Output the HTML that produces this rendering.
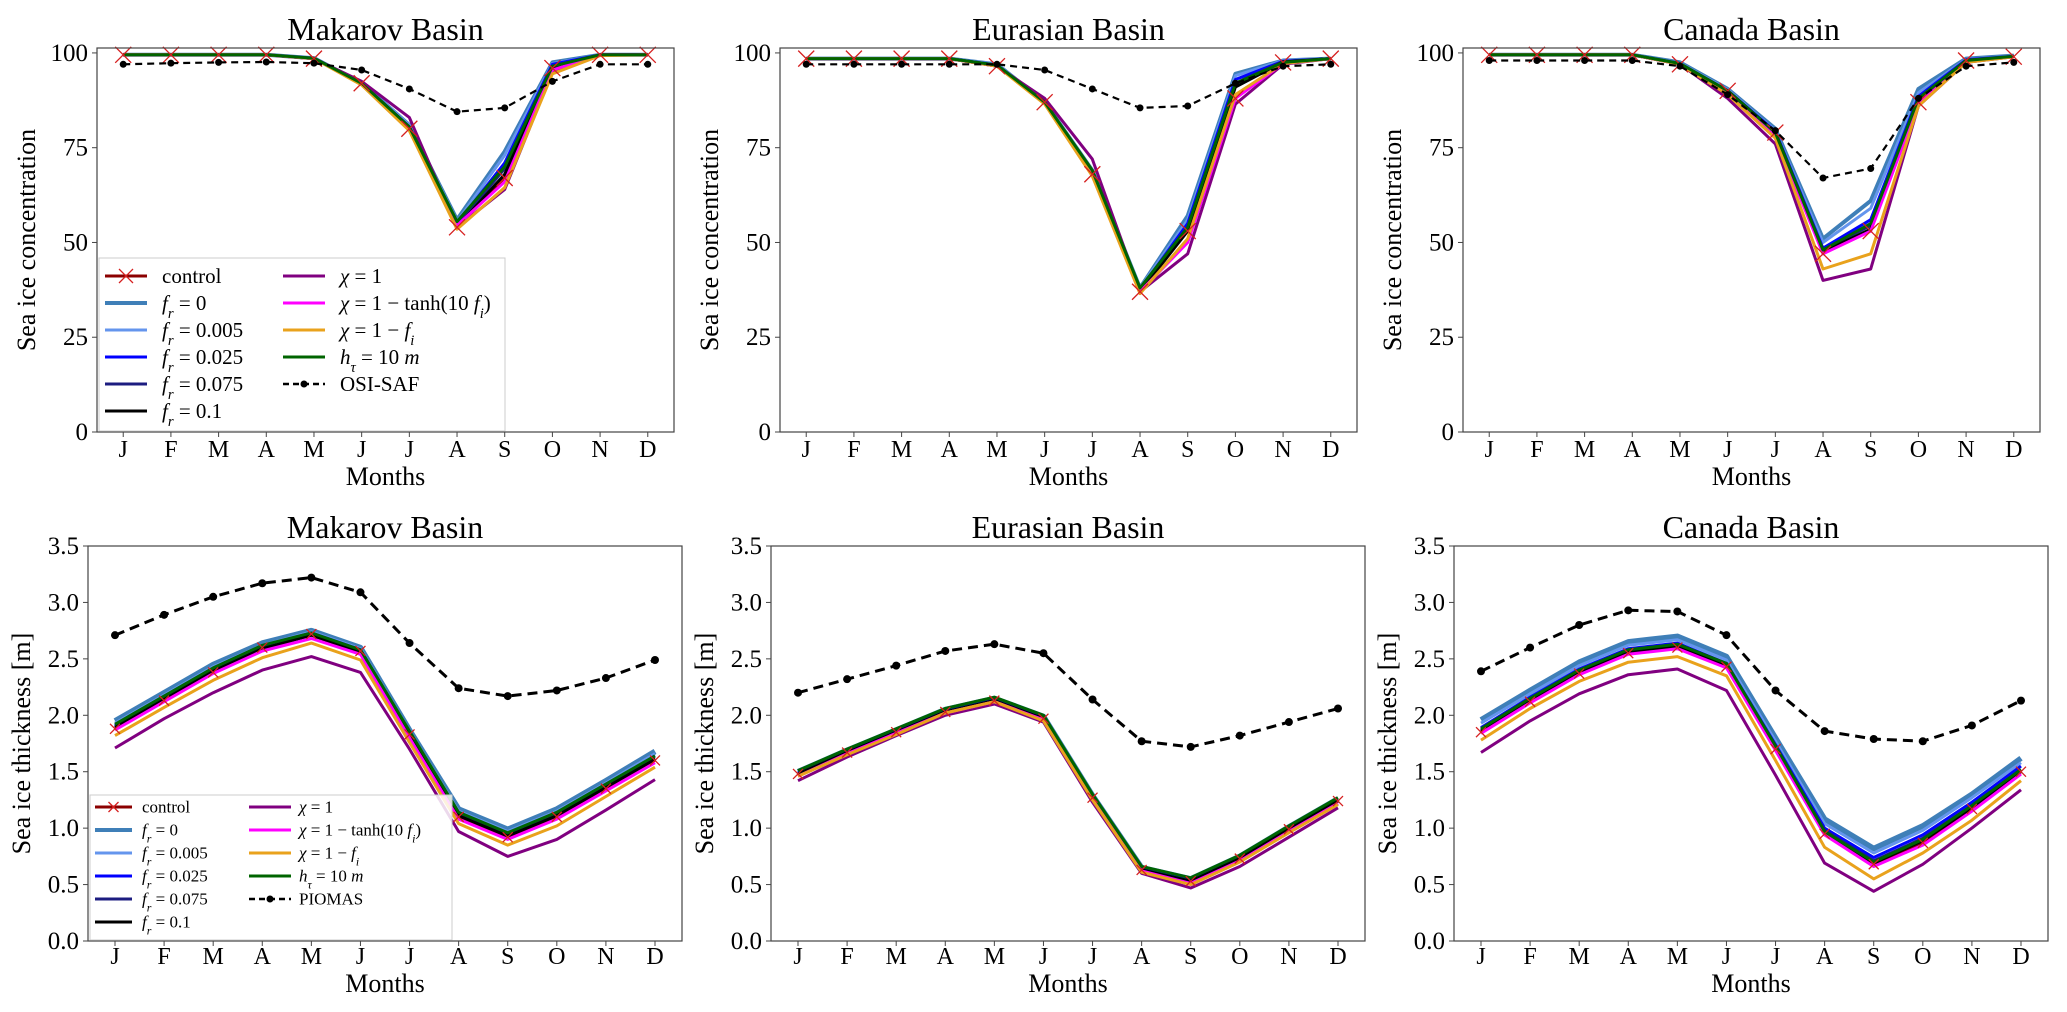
<!DOCTYPE html>
<html><head><meta charset="utf-8"><style>
html,body{margin:0;padding:0;background:#fff;}
svg{display:block;font-family:"Liberation Serif",serif;}
</style></head>
<body>
<svg id="fig" width="2067" height="1012" viewBox="0 0 2067 1012" xmlns="http://www.w3.org/2000/svg"></svg>
<script>
const months = ["J","F","M","A","M","J","J","A","S","O","N","D"];
const seriesNames = ["control","fr0","fr005","fr025","fr075","fr1","chi1","tanh","onefi","htau"];
const concTicks = [0,25,50,75,100];
const thickTicks = [0,0.5,1.0,1.5,2.0,2.5,3.0,3.5];
const thickTickLabels = ["0.0","0.5","1.0","1.5","2.0","2.5","3.0","3.5"];

// Makarov concentration
const makConc = [
 [99.5,99.5,99.5,99.5,98.5,92,80,54,67,96,99.5,99.5],
 [99.5,99.5,99.5,99.5,98.6,92,81,56,74,97.5,99.5,99.5],
 [99.5,99.5,99.5,99.5,98.6,92,81,55.5,73,97.2,99.5,99.5],
 [99.5,99.5,99.5,99.5,98.6,92,80.5,55,71,97,99.5,99.5],
 [99.5,99.5,99.5,99.5,98.5,92,80.5,54.5,69.5,96.5,99.5,99.5],
 [99.5,99.5,99.5,99.5,98.5,92,80,54,68,96,99.5,99.5],
 [99.5,99.5,99.5,99.5,98.5,92.5,83,54,64,95,99.5,99.5],
 [99.5,99.5,99.5,99.5,98.5,92,80,54.5,66,95.5,99.5,99.5],
 [99.5,99.5,99.5,99.5,98.5,91.5,79.5,53.5,64.5,94.5,99.3,99.5],
 [99.5,99.5,99.5,99.5,98.6,92,80.5,55.5,70,96.5,99.5,99.5]
];
const makOsi = [97,97.3,97.5,97.6,97.3,95.5,90.5,84.5,85.5,92.5,97,97];
// Eurasian concentration
const eurConc = [
 [98.5,98.5,98.5,98.5,96.5,87,68,37,53,88,97.5,98.5],
 [98.5,98.5,98.5,98.5,97,87,69,38,57,94.5,98,98.5],
 [98.5,98.5,98.5,98.5,97,87,69,38,56,94,98,98.5],
 [98.5,98.5,98.5,98.5,96.8,87,68.5,37.5,55,93,97.8,98.5],
 [98.5,98.5,98.5,98.5,96.7,87,68.5,37.5,54,92,97.7,98.5],
 [98.5,98.5,98.5,98.5,96.5,87,68,37,53,91,97.6,98.5],
 [98.5,98.5,98.5,98.5,96.5,88,72,37,47,86.5,97,98.5],
 [98.5,98.5,98.5,98.5,96.5,87,68,37,50,88,97.2,98.5],
 [98.5,98.5,98.5,98.5,96.5,86.5,67.5,36.5,51,89,97.2,98.5],
 [98.5,98.5,98.5,98.5,96.8,87,69,38,54,92,97.5,98.5]
];
const eurOsi = [97,97,97,97,97,95.5,90.5,85.5,86,92,96.5,97];
// Canada concentration
const canConc = [
 [99.5,99.5,99.5,99.5,97,90,79,47,53,87,98,99],
 [99.5,99.5,99.5,99.5,97.5,90.5,80,51,61,90.5,98.5,99.3],
 [99.5,99.5,99.5,99.5,97.3,90.3,79.5,50,59,89.5,98.3,99.2],
 [99.5,99.5,99.5,99.5,97.2,90,79.3,48.5,56,88.5,98.2,99.1],
 [99.5,99.5,99.5,99.5,97.1,90,79,48,54.5,87.5,98.1,99],
 [99.5,99.5,99.5,99.5,97,90,79,47.5,53.5,87,98,99],
 [99.5,99.5,99.5,99.5,97,88,76,40,43,86,97.5,99],
 [99.5,99.5,99.5,99.5,97,89.5,78,47,53,86.5,97.8,99],
 [99.5,99.5,99.5,99.5,97,89,77.5,43,47,86,97.5,99],
 [99.5,99.5,99.5,99.5,97.2,90,79,48,55,88,98,99.1]
];
const canOsi = [98,98,98,98,96.5,89,79.5,67,69.5,88,96.5,97.5];

// Makarov thickness
const makThick = [
 [1.88,2.13,2.38,2.6,2.72,2.57,1.83,1.1,0.92,1.1,1.35,1.6],
 [1.95,2.2,2.45,2.64,2.75,2.6,1.87,1.17,0.99,1.17,1.42,1.68],
 [1.93,2.18,2.43,2.62,2.74,2.59,1.86,1.15,0.97,1.15,1.4,1.66],
 [1.91,2.16,2.41,2.61,2.73,2.58,1.85,1.13,0.95,1.13,1.38,1.64],
 [1.9,2.15,2.4,2.6,2.72,2.57,1.84,1.12,0.94,1.12,1.37,1.62],
 [1.89,2.14,2.39,2.59,2.71,2.56,1.83,1.11,0.93,1.11,1.36,1.61],
 [1.71,1.97,2.2,2.4,2.52,2.38,1.7,0.97,0.75,0.9,1.16,1.43],
 [1.87,2.12,2.37,2.57,2.68,2.54,1.8,1.08,0.9,1.08,1.33,1.58],
 [1.82,2.07,2.31,2.51,2.64,2.49,1.76,1.04,0.85,1.02,1.28,1.54],
 [1.92,2.17,2.42,2.62,2.73,2.58,1.86,1.14,0.96,1.14,1.39,1.64]
];
const makPiomas = [2.71,2.89,3.05,3.17,3.22,3.09,2.64,2.24,2.17,2.22,2.33,2.49];
// Eurasian thickness
const eurThick = [
 [1.48,1.67,1.85,2.03,2.13,1.97,1.27,0.63,0.53,0.73,0.99,1.24],
 [1.5,1.69,1.87,2.05,2.15,1.99,1.29,0.65,0.55,0.75,1.01,1.26],
 [1.49,1.68,1.86,2.04,2.14,1.98,1.28,0.64,0.54,0.74,1.0,1.25],
 [1.49,1.68,1.86,2.04,2.14,1.98,1.28,0.64,0.54,0.74,1.0,1.25],
 [1.48,1.67,1.85,2.03,2.13,1.97,1.27,0.63,0.53,0.73,0.99,1.24],
 [1.48,1.67,1.85,2.03,2.13,1.97,1.27,0.63,0.53,0.73,0.99,1.24],
 [1.42,1.63,1.82,2.0,2.1,1.94,1.23,0.6,0.47,0.66,0.92,1.18],
 [1.46,1.66,1.84,2.02,2.12,1.96,1.26,0.62,0.51,0.71,0.97,1.22],
 [1.46,1.65,1.83,2.02,2.12,1.95,1.25,0.61,0.5,0.7,0.96,1.21],
 [1.51,1.7,1.88,2.06,2.16,2.0,1.3,0.66,0.56,0.76,1.02,1.27]
];
const eurPiomas = [2.2,2.32,2.44,2.57,2.63,2.55,2.14,1.77,1.72,1.82,1.94,2.06];
// Canada thickness
const canThick = [
 [1.85,2.12,2.37,2.55,2.6,2.43,1.7,0.95,0.68,0.87,1.17,1.5],
 [1.96,2.22,2.47,2.65,2.7,2.52,1.8,1.08,0.82,1.02,1.3,1.62],
 [1.93,2.19,2.44,2.62,2.67,2.49,1.77,1.04,0.78,0.98,1.27,1.58],
 [1.89,2.16,2.41,2.59,2.64,2.46,1.74,1.0,0.74,0.94,1.23,1.55],
 [1.87,2.14,2.39,2.57,2.62,2.45,1.72,0.98,0.71,0.91,1.2,1.52],
 [1.86,2.13,2.38,2.56,2.61,2.44,1.71,0.96,0.69,0.89,1.18,1.5],
 [1.67,1.95,2.19,2.36,2.41,2.22,1.47,0.69,0.44,0.68,1.0,1.34],
 [1.84,2.11,2.36,2.54,2.59,2.42,1.69,0.94,0.66,0.85,1.15,1.48],
 [1.78,2.06,2.3,2.47,2.52,2.35,1.6,0.83,0.55,0.78,1.07,1.42],
 [1.88,2.15,2.4,2.58,2.63,2.46,1.73,0.97,0.7,0.9,1.2,1.52]
];
const canPiomas = [2.39,2.6,2.8,2.93,2.92,2.71,2.22,1.86,1.79,1.77,1.91,2.13];

const NS = "http://www.w3.org/2000/svg";
const svg = document.getElementById("fig");
const colors = ["#8b0000","#3f7fb8","#6495ed","#0000ff","#1c1c80","#000000","#800080","#ff00ff","#e9a21c","#006400"];

function mk(tag, attrs, parent){
  const e = document.createElementNS(NS, tag);
  for (const k in attrs) e.setAttribute(k, attrs[k]);
  (parent||svg).appendChild(e);
  return e;
}

const panels = [
 {L:97, T:48, B:432, W:577, ymax:101.3, title:"Makarov Basin", data:makConc, obs:makOsi, kind:"conc", legend:true, rightSpine:true},
 {L:780, T:48, B:432, W:577, ymax:101.3, title:"Eurasian Basin", data:eurConc, obs:eurOsi, kind:"conc", legend:false, rightSpine:true},
 {L:1463, T:48, B:432, W:577, ymax:101.3, title:"Canada Basin", data:canConc, obs:canOsi, kind:"conc", legend:false, rightSpine:true},
 {L:88, T:546, B:941, W:594, ymax:3.5, title:"Makarov Basin", data:makThick, obs:makPiomas, kind:"thick", legend:true, rightSpine:true},
 {L:771, T:546, B:941, W:594, ymax:3.5, title:"Eurasian Basin", data:eurThick, obs:eurPiomas, kind:"thick", legend:false, rightSpine:true},
 {L:1454, T:546, B:941, W:594, ymax:3.5, title:"Canada Basin", data:canThick, obs:canPiomas, kind:"thick", legend:false, rightSpine:true}
];

function addMath(t, parts){
  // parts: [text, style] style: 'i' italic, 's' subscript italic, 'n' normal
  parts.forEach(p=>{
    const ts = document.createElementNS(NS,"tspan");
    ts.textContent = p[0];
    if (p[1]==='i') ts.setAttribute("font-style","italic");
    if (p[1]==='s') { ts.setAttribute("font-style","italic"); ts.setAttribute("baseline-shift","sub"); ts.setAttribute("font-size","70%"); }
    t.appendChild(ts);
  });
}
const legendLabels = [
 [["control","n"]],
 [["f","i"],["r","s"],[" = 0","n"]],
 [["f","i"],["r","s"],[" = 0.005","n"]],
 [["f","i"],["r","s"],[" = 0.025","n"]],
 [["f","i"],["r","s"],[" = 0.075","n"]],
 [["f","i"],["r","s"],[" = 0.1","n"]],
 [["χ","i"],[" = 1","n"]],
 [["χ","i"],[" = 1 − tanh(10 ","n"],["f","i"],["i","s"],[")","n"]],
 [["χ","i"],[" = 1 − ","n"],["f","i"],["i","s"]],
 [["h","i"],["τ","s"],[" = 10 ","n"],["m","i"]]
];

panels.forEach((p, pi)=>{
  const g = mk("g", {});
  
  
  const step = p.W/12.1;
  const xs = i => p.L + (i+0.55)*step;
  const ys = v => p.B - v/p.ymax*(p.B-p.T);
  const big = p.kind==="conc";

  // title
  const title = mk("text", {x:p.L+p.W/2, y:p.T-8, "font-size":32, "text-anchor":"middle", fill:"#000"}, g);
  title.textContent = p.title;
  
  

  // series lines
  p.data.forEach((arr, si)=>{
    const pts = arr.map((v,i)=>xs(i).toFixed(1)+","+ys(v).toFixed(1)).join(" ");
    let w = big?3:3;
    if (si===1) w = big?4:5.5;
    if (si===0) w = 2.5;
    const pl = mk("polyline", {points:pts, fill:"none", stroke:colors[si], "stroke-width":w, "stroke-linejoin":"round"}, g);
    
    
  });
  // control markers
  const ms = big?8:5;
  p.data[0].forEach((v,i)=>{
    const cx = xs(i), cy = ys(v);
    const m = mk("path", {d:`M${cx-ms},${cy-ms}L${cx+ms},${cy+ms}M${cx-ms},${cy+ms}L${cx+ms},${cy-ms}`, stroke:"#d62020", "stroke-width":1.3, fill:"none"}, g);
    
    
  });
  // observations
  const opts = p.obs.map((v,i)=>xs(i).toFixed(1)+","+ys(v).toFixed(1)).join(" ");
  const ol = mk("polyline", {points:opts, fill:"none", stroke:"#000", "stroke-width":big?2.2:3, "stroke-dasharray":big?"7,5":"10,6"}, g);
  
  
  p.obs.forEach((v,i)=>{
    const c = mk("circle", {cx:xs(i), cy:ys(v), r:big?3.5:4, fill:"#000"}, g);
    
    
  });

  // spines
  const box = mk("rect", {x:p.L, y:p.T, width:p.W, height:p.B-p.T, fill:"none", stroke:"#444", "stroke-width":1.2}, g);
  
  

  // x ticks
  months.forEach((m,i)=>{
    const x = xs(i);
    mk("line", {x1:x, x2:x, y1:p.B, y2:p.B+5, stroke:"#444", "stroke-width":1}, g);
    const t = mk("text", {x:x, y:p.B+(big?25:23), "font-size":24, "text-anchor":"middle"}, g);
    t.textContent = m;
    
    
  });
  const xl = mk("text", {x:p.L+p.W/2, y:p.B+(big?53:51), "font-size":26, "text-anchor":"middle"}, g);
  xl.textContent = "Months";
  
  

  // y ticks
  const ticks = big?concTicks:thickTicks;
  ticks.forEach((v,i)=>{
    const y = ys(v);
    mk("line", {x1:p.L-5, x2:p.L, y1:y, y2:y, stroke:"#444", "stroke-width":1}, g);
    const t = mk("text", {x:p.L-9, y:y+8, "font-size":25, "text-anchor":"end"}, g);
    t.textContent = big?String(v):thickTickLabels[i];
    
    
  });
  const yc = (p.T+p.B)/2, yx = p.L - (big?62:58);
  const yl = mk("text", {x:yx, y:yc, "font-size":26, "text-anchor":"middle", transform:`rotate(-90 ${yx} ${yc})`}, g);
  yl.textContent = big?"Sea ice concentration":"Sea ice thickness [m]";
  
  

  // legend
  if (p.legend){
    const lg = mk("g", {}, g);
    
    
    const lt = big?258:795, lb = p.B-1, lr = big?505:452, lx = p.L+2;
    const rowH = big?27:23, r0 = big?276:807;
    const fs = big?21:17;
    mk("rect", {x:lx, y:lt, width:lr-lx, height:lb-lt, fill:"#fff", "fill-opacity":0.85, stroke:"#ccc", "stroke-width":1}, lg);
    const c1 = big?[105,147,162]:[95,132,142];
    const c2 = big?[283,325,340]:[249,291,299];
    const entries = seriesNames.map((n,i)=>({i:i}));
    entries.push({i:-1});
    entries.forEach((e, k)=>{
      const col = k<6?c1:c2;
      const row = k<6?k:k-6;
      const y = r0 + row*rowH;
      const ent = mk("g", {}, lg);
      
      
      if (e.i>=0){
        mk("line", {x1:col[0], x2:col[1], y1:y, y2:y, stroke:colors[e.i], "stroke-width":e.i===1?4:3}, ent);
        if (e.i===0){
          const cx=(col[0]+col[1])/2, s=big?7:5;
          mk("path", {d:`M${cx-s},${y-s}L${cx+s},${y+s}M${cx-s},${y+s}L${cx+s},${y-s}`, stroke:"#d62020", "stroke-width":1.3}, ent);
        }
        const t = mk("text", {x:col[2], y:y+fs*0.33, "font-size":fs}, ent);
        addMath(t, legendLabels[e.i]);
      } else {
        mk("line", {x1:col[0], x2:col[1], y1:y, y2:y, stroke:"#000", "stroke-width":2.5, "stroke-dasharray":"6,4"}, ent);
        mk("circle", {cx:(col[0]+col[1])/2, cy:y, r:3.5, fill:"#000"}, ent);
        const t = mk("text", {x:col[2], y:y+fs*0.33, "font-size":fs}, ent);
        t.textContent = big?"OSI-SAF":"PIOMAS";
      }
    });
  }
});
</script>
</body></html>
